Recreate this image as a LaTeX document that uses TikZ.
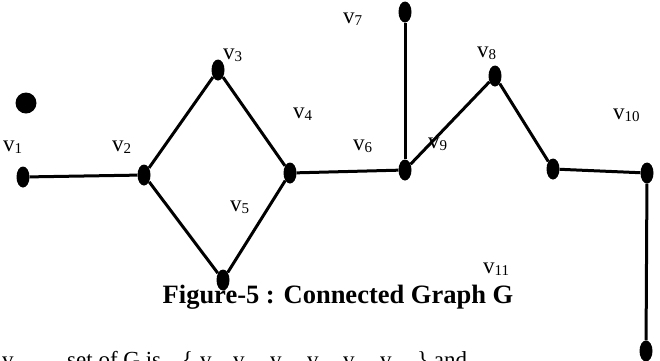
\documentclass[tikz,border=0pt]{standalone}
\usepackage{fontspec}
\setmainfont{Liberation Serif}
\usetikzlibrary{shapes.geometric}
\newcommand\vsb[1]{v\raisebox{-2pt}{\fontsize{15}{15}\selectfont #1}}
\tikzset{
  dotnode/.style={ellipse,fill=black,draw=none,minimum width=13pt,minimum height=21pt,inner sep=0pt},
  rounddot/.style={circle,fill=black,draw=none,minimum size=21pt,inner sep=0pt},
  lbl/.style={font=\fontsize{23}{23}\selectfont,inner sep=0pt,anchor=base west},
  edge/.style={line width=3pt,black},
  captxt/.style={font=\fontsize{26.5}{26.5}\selectfont\bfseries,inner sep=0pt,anchor=base},
  bodytxt/.style={font=\fontsize{23}{23}\selectfont,inner sep=0pt,anchor=base west}
}
\begin{document}
\begin{tikzpicture}[x=1pt,y=-1pt]
\useasboundingbox (0,0) rectangle (660,360);
\clip (0,0) rectangle (660,360);
% vertices
\node[rounddot] (iso) at (26,103) {};
\node[dotnode] (d1) at (23,177) {};
\node[dotnode] (d2) at (144,175) {};
\node[dotnode] (d3) at (218,70) {};
\node[dotnode] (d4) at (290,173) {};
\node[dotnode] (d5) at (223,280) {};
\node[dotnode] (d6) at (405,170) {};
\node[dotnode] (d7) at (405,12) {};
\node[dotnode] (d8) at (495,76) {};
\node[dotnode] (d9) at (553,169) {};
\node[dotnode] (d10) at (647,173) {};
\node[dotnode] (d11) at (646,351) {};
% edges
\draw[edge] (d1) -- (d2);
\draw[edge] (d2) -- (d3);
\draw[edge] (d3) -- (d4);
\draw[edge] (d2) -- (d5);
\draw[edge] (d5) -- (d4);
\draw[edge] (d4) -- (d6);
\draw[edge] (d6) -- (d7);
\draw[edge] (d6) -- (d8);
\draw[edge] (d8) -- (d9);
\draw[edge] (d9) -- (d10);
\draw[edge] (d10) -- (d11);
% labels
\node[lbl] (l1) at (3,151) {\vsb{1}};
\node[lbl] (l2) at (112,151) {\vsb{2}};
\node[lbl] (l3) at (223,59) {\vsb{3}};
\node[lbl] (l4) at (293,118) {\vsb{4}};
\node[lbl] (l5) at (230,211) {\vsb{5}};
\node[lbl] (l6) at (353,150) {\vsb{6}};
\node[lbl] (l7) at (343,23) {\vsb{7}};
\node[lbl] (l8) at (477,57) {\vsb{8}};
\node[lbl] (l9) at (428,148) {\vsb{9}};
\node[lbl] (l10) at (613,119) {\vsb{10}};
\node[lbl] (l11) at (483,273) {\vsb{11}};
% caption
\node[captxt] (cap) at (338,303) {Figure-5 : Connected Graph G};
% clipped text line at the bottom
\node[bodytxt] (t0) at (2,367) {v};
\node[bodytxt] (t1) at (67,367) {set of G is};
\node[bodytxt] (t2) at (182,367) {\{};
\node[bodytxt] (s1) at (200,367) {v};
\node[bodytxt] (s2) at (233,367) {v};
\node[bodytxt] (s3) at (270,367) {v};
\node[bodytxt] (s4) at (307,367) {v};
\node[bodytxt] (s5) at (343,367) {v};
\node[bodytxt] (s6) at (380,367) {v};
\node[bodytxt] (t3) at (417,367) {\} and};
\end{tikzpicture}
\end{document}
